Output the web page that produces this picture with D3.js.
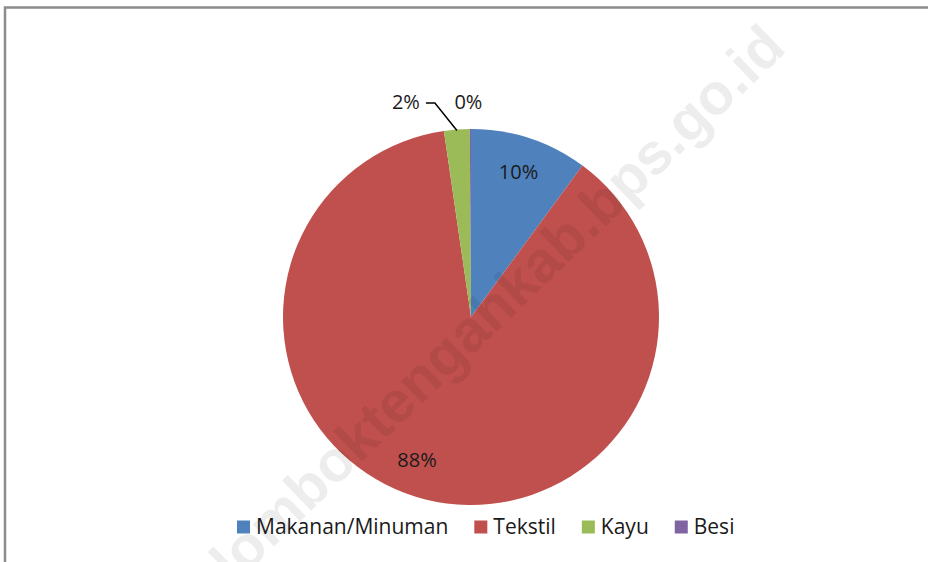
<!DOCTYPE html>
<html>
<head>
<meta charset="utf-8">
<script src="https://cdn.jsdelivr.net/npm/d3@7"></script>
<style>
  body { margin: 0; background: #fff; }
  svg { display: block; }
</style>
</head>
<body>
<div id="chart"></div>
<script>
const width = 928;
const height = 562;

// data
const categories = ['Makanan/Minuman', 'Tekstil', 'Kayu', 'Besi'];
const values = [10.1, 87.6, 2.2, 0.1];
const colors = ['#4F81BD', '#C0504D', '#9BBB59', '#8064A2'];

const data = categories.map((c, i) => ({ name: c, value: values[i] }));
const total = d3.sum(values);

const svg = d3.select('#chart')
    .append('svg')
    .attr('width', width)
    .attr('height', height);

// outer frame
svg.append('rect')
    .attr('x', 5)
    .attr('y', 7.5)
    .attr('width', width)
    .attr('height', height)
    .attr('fill', '#fff')
    .attr('stroke', '#8c8c8c')
    .attr('stroke-width', 2.5);

const cx = 471;
const cy = 317;
const radius = 188;
const font = 'Open Sans, sans-serif';

const color = d3.scaleOrdinal()
    .domain(categories)
    .range(colors);

const pie = d3.pie()
    .sort(null)
    .value(d => d.value);

const arc = d3.arc()
    .innerRadius(0)
    .outerRadius(radius);

const labelArc = d3.arc()
    .innerRadius(radius * 0.81)
    .outerRadius(radius * 0.81);

const arcs = pie(data);

const g = svg.append('g')
    .attr('transform', `translate(${cx}, ${cy})`);

g.selectAll('path')
    .data(arcs)
    .enter()
    .append('path')
    .attr('d', arc)
    .attr('fill', d => color(d.data.name));

const pct = d => Math.round(d.data.value / total * 100) + '%';

// labels inside the big slices (big one nudged a bit like excel does)
g.selectAll('text.inside')
    .data(arcs.filter(d => d.data.value / total > 0.05))
    .enter()
    .append('text')
    .attr('class', 'inside')
    .attr('transform', d => {
        const [x, y] = labelArc.centroid(d);
        return d.data.value / total > 0.5 ? `translate(${x - 17}, ${y - 5})` : `translate(${x}, ${y})`;
    })
    .attr('text-anchor', 'middle')
    .attr('dy', '0.35em')
    .style('font-family', font)
    .style('font-size', '20px')
    .attr('fill', '#1a1a1a')
    .text(pct);

// outside labels for small slices
const small = arcs.filter(d => d.data.value / total <= 0.05);
const labelY = -radius - 27;
const kayu = small[0];
const besi = small[1];

const mid = d => (d.startAngle + d.endAngle) / 2;
const edge = (d, r) => [Math.sin(mid(d)) * r, -Math.cos(mid(d)) * r];

const kp = edge(kayu, radius - 1);
g.append('polyline')
    .attr('points', [kp, [kp[0] - 22, labelY + 1], [kp[0] - 31, labelY + 1]].map(p => p.join(',')).join(' '))
    .attr('fill', 'none')
    .attr('stroke', '#000')
    .attr('stroke-width', 1.5);

g.append('text')
    .attr('x', kp[0] - 51)
    .attr('y', labelY)
    .attr('text-anchor', 'middle')
    .attr('dy', '0.35em')
    .style('font-family', font)
    .style('font-size', '20px')
    .attr('fill', '#1a1a1a')
    .text(pct(kayu));

const bp = edge(besi, radius);
g.append('text')
    .attr('x', bp[0] - 2)
    .attr('y', labelY)
    .attr('text-anchor', 'middle')
    .attr('dy', '0.35em')
    .style('font-family', font)
    .style('font-size', '20px')
    .attr('fill', '#1a1a1a')
    .text(pct(besi));

// legend
const legend = svg.append('g')
    .attr('transform', 'translate(237, 527)');

let lx = 0;
data.forEach(d => {
    const item = legend.append('g').attr('transform', `translate(${lx}, 0)`);
    item.append('rect')
        .attr('x', 0)
        .attr('y', -6.5)
        .attr('width', 13)
        .attr('height', 13)
        .attr('fill', color(d.name));
    const t = item.append('text')
        .attr('x', 19)
        .attr('dy', '0.35em')
        .style('font-family', font)
        .style('font-size', '21px')
        .attr('fill', '#1a1a1a')
        .text(d.name);
    lx += 19 + t.node().getComputedTextLength() + 26;
});

// watermark
svg.append('text')
    .attr('transform', 'translate(497, 303) rotate(-44)')
    .attr('text-anchor', 'middle')
    .attr('dy', '0.35em')
    .style('font-family', 'Liberation Sans, Arial, sans-serif')
    .style('font-weight', 'bold')
    .style('font-size', '58px')
    .attr('fill', '#000')
    .attr('fill-opacity', 0.07)
    .text('lomboktengahkab.bps.go.id');
</script>
</body>
</html>
